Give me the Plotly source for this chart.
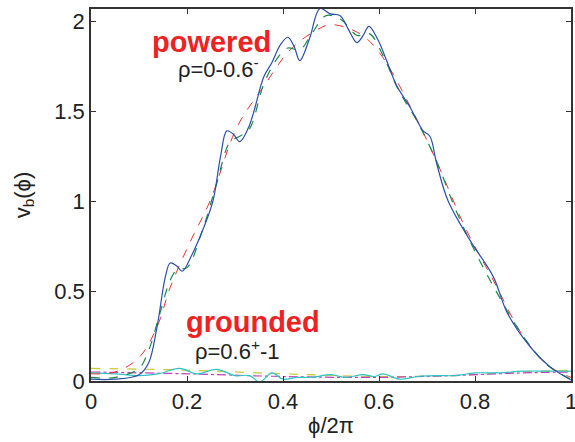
import plotly.graph_objects as go

# Powered (rho = 0-0.6-)
blue_x = [0, 0.05, 0.1, 0.12, 0.1375, 0.155, 0.165, 0.178, 0.19, 0.21, 0.233, 0.254, 0.27, 0.283, 0.297, 0.31, 0.33, 0.36, 0.377, 0.395, 0.41, 0.423, 0.435, 0.455, 0.477, 0.498, 0.519, 0.537, 0.554, 0.567, 0.579, 0.597, 0.616, 0.637, 0.665, 0.692, 0.706, 0.72, 0.744, 0.79, 0.838, 0.867, 0.915, 0.956, 1.0]
blue_y = [0.01, 0.01, 0.035, 0.1, 0.3, 0.58, 0.656, 0.64, 0.61, 0.7, 0.84, 1.0, 1.25, 1.39, 1.37, 1.33, 1.42, 1.69, 1.77, 1.87, 1.91, 1.86, 1.78, 1.9, 2.07, 2.04, 2.03, 1.95, 1.88, 1.92, 1.97, 1.9, 1.78, 1.64, 1.52, 1.39, 1.36, 1.21, 1.0, 0.78, 0.58, 0.38, 0.19, 0.08, 0.005]

green_x = [0, 0.05, 0.1, 0.12, 0.144, 0.165, 0.18, 0.2, 0.23, 0.26, 0.29, 0.31, 0.33, 0.36, 0.39, 0.41, 0.435, 0.46, 0.49, 0.52, 0.555, 0.58, 0.61, 0.64, 0.68, 0.72, 0.76, 0.8, 0.85, 0.9, 0.95, 1.0]
green_y = [0.02, 0.02, 0.07, 0.17, 0.38, 0.56, 0.62, 0.63, 0.82, 1.08, 1.33, 1.36, 1.4, 1.65, 1.8, 1.85, 1.84, 1.93, 2.03, 2.01, 1.92, 1.93, 1.8, 1.62, 1.44, 1.22, 0.95, 0.72, 0.47, 0.25, 0.09, 0.01]

red_x = [0, 0.05, 0.1, 0.1375, 0.165, 0.206, 0.248, 0.304, 0.358, 0.415, 0.47, 0.5, 0.56, 0.602, 0.67, 0.72, 0.78, 0.84, 0.9, 0.95, 1.0]
red_y = [0.04, 0.05, 0.13, 0.3, 0.52, 0.77, 1.0, 1.41, 1.63, 1.84, 1.95, 1.98, 1.93, 1.82, 1.5, 1.22, 0.85, 0.55, 0.25, 0.09, 0.02]

# Grounded (rho = 0.6+ - 1)
cyan_x = [0, 0.05, 0.1, 0.14, 0.185, 0.22, 0.262, 0.3, 0.33, 0.352, 0.377, 0.4, 0.43, 0.46, 0.5, 0.53, 0.567, 0.59, 0.608, 0.644, 0.68, 0.72, 0.76, 0.8, 0.85, 0.9, 0.95, 1.0]
cyan_y = [0.045, 0.04, 0.03, 0.04, 0.07, 0.04, 0.065, 0.03, 0.03, -0.005, 0.045, 0.01, 0.02, 0.02, 0.035, 0.02, 0.035, 0.025, 0.04, 0.01, 0.025, 0.03, 0.03, 0.045, 0.045, 0.055, 0.055, 0.055]

magenta_x = [0, 0.2, 0.4, 0.6, 0.75, 0.9, 1.0]
magenta_y = [0.05, 0.04, 0.025, 0.02, 0.03, 0.045, 0.05]

yellow_x = [0, 0.2, 0.4, 0.6, 0.75, 0.9, 1.0]
yellow_y = [0.07, 0.06, 0.04, 0.025, 0.03, 0.05, 0.06]

x_ticks = [0, 0.2, 0.4, 0.6, 0.8, 1]
x_ticklabels = ["0", "0.2", "0.4", "0.6", "0.8", "1"]
y_ticks = [0, 0.5, 1, 1.5, 2]
y_ticklabels = ["0", "0.5", "1", "1.5", "2"]

fig = go.Figure()

def add(x, y, color, dash, width=1.2):
    fig.add_trace(go.Scatter(x=x, y=y, mode="lines",
                             line=dict(color=color, dash=dash, width=width, shape="spline", smoothing=1.0),
                             showlegend=False, hoverinfo="skip"))

add(yellow_x, yellow_y, "#c8c832", "dash")
add(magenta_x, magenta_y, "#c040c0", "dashdot")
add(cyan_x, cyan_y, "#2ec4c4", "solid")
add(red_x, red_y, "#ee3030", "dash", 1.0)
add(green_x, green_y, "#1a8a4a", "dash")
add(blue_x, blue_y, "#2a4fa8", "solid")

font = "Liberation Sans, Arial, sans-serif"
fs = 22

axis_common = dict(showline=True, linecolor="#333333", linewidth=1.5, mirror="ticks",
                   ticks="inside", ticklen=5, tickcolor="#333333", tickwidth=1,
                   showgrid=False, zeroline=False, ticklabeloverflow="allow",
                   tickfont=dict(family=font, size=fs, color="#222222"))

fig.update_xaxes(range=[0, 1], tickvals=x_ticks, ticktext=x_ticklabels, automargin=False,
                 title=dict(text="ϕ/2π", font=dict(family=font, size=fs, color="#222222"), standoff=4),
                 **axis_common)
fig.update_yaxes(range=[0, 2.067], tickvals=y_ticks, ticktext=y_ticklabels, automargin=False,
                 title=dict(text="v<sub>b</sub>(ϕ)", font=dict(family=font, size=fs, color="#222222"), standoff=18),
                 **axis_common)

fig.add_annotation(x=0.25, y=1.883, xref="x", yref="y", text="<b>powered</b>", showarrow=False,
                   font=dict(family=font, size=29, color="#ee2222"))
fig.add_annotation(x=0.265, y=1.74, xref="x", yref="y", text="ρ=0-0.6<sup>-</sup>", showarrow=False,
                   font=dict(family=font, size=22, color="#222222"))
fig.add_annotation(x=0.3375, y=0.328, xref="x", yref="y", text="<b>grounded</b>", showarrow=False,
                   font=dict(family=font, size=29, color="#ee2222"))
fig.add_annotation(x=0.305, y=0.172, xref="x", yref="y", text="ρ=0.6<sup>+</sup>-1", showarrow=False,
                   font=dict(family=font, size=22, color="#222222"))

fig.update_layout(width=575, height=442, margin=dict(l=91, r=4, t=9, b=61),
                  paper_bgcolor="white", plot_bgcolor="white")

fig.write_html("out.html")
